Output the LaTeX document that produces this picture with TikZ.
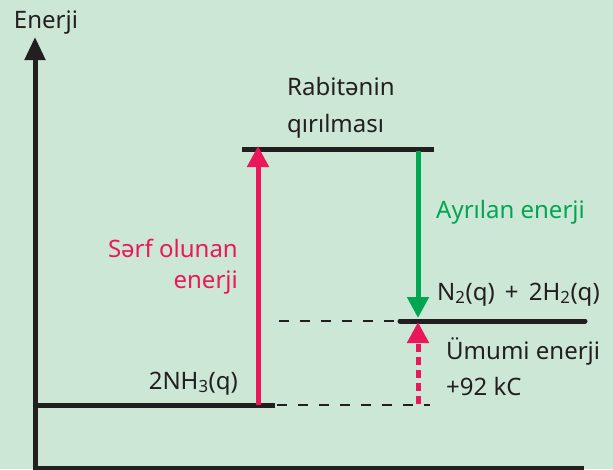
\documentclass[tikz,border=0pt]{standalone}
\usepackage{fontspec}
\setmainfont{Noto Sans}
\usetikzlibrary{arrows.meta}
\definecolor{bgmint}{RGB}{205,231,214}
\definecolor{sarfpink}{RGB}{234,24,90}
\definecolor{ayrgreen}{RGB}{0,166,81}
\definecolor{inkblack}{RGB}{35,31,32}

\begin{document}
\begin{tikzpicture}[x=1pt, y=-1pt,
  level/.style={line width=5pt, inkblack},
  guide/.style={line width=2.2pt, inkblack, dash pattern=on 10pt off 11pt},
  lbl/.style={font=\fontsize{24}{38}\selectfont, text=inkblack, inner sep=0pt},
  uparrow/.style={line width=5pt, sarfpink, -{Triangle[length=21pt, width=21pt]}},
  downarrow/.style={line width=5pt, ayrgreen, -{Triangle[length=21pt, width=21pt]}}]
  \fill[bgmint] (0,0) rectangle (613,469);
  \useasboundingbox (0,0) rectangle (613,469);
  %% axes
  \coordinate (origin) at (35,468);
  \coordinate (ytop) at (35,37);
  \coordinate (xend) at (584,468);
  \draw[line width=5pt, inkblack, -{Triangle[length=23pt, width=20pt]}] (35,469) -- (ytop);
  \draw[line width=5pt, inkblack] (32.5,468) -- (xend);
  \node[lbl, anchor=base] (yname) at (46,28) {Enerji};
  %% energy levels
  \coordinate (lowL) at (35,405);
  \coordinate (lowR) at (275,405);
  \coordinate (lowD) at (430,405);
  \coordinate (topL) at (242,149);
  \coordinate (topR) at (434,149);
  \coordinate (midD) at (279,321);
  \coordinate (midL) at (400,321);
  \coordinate (midR) at (585,321);
  \draw[level] (lowL) -- (lowR);
  \draw[level] (topL) -- (topR);
  \draw[level, line cap=round] (midL) -- (midR);
  \draw[guide] (lowR) ++(2,0) -- (lowD);
  \draw[guide] (midD) -- (midL);
  %% arrows
  \coordinate (upfoot) at (258,405);
  \coordinate (uptip) at (258,146);
  \coordinate (downfoot) at (418,151);
  \coordinate (downtip) at (418,318);
  \coordinate (netfoot) at (418,404);
  \coordinate (nettip) at (418,322);
  \draw[uparrow] (upfoot) -- (uptip);
  \draw[downarrow] (downfoot) -- (downtip);
  \draw[uparrow, dash pattern=on 8pt off 5pt] (netfoot) -- (nettip);
  %% labels
  \node[lbl, anchor=base west] (bond1) at (287,95) {Rabitənin};
  \node[lbl, anchor=base west] (bond2) at (287,132) {qırılması};
  \node[lbl, anchor=base west] (prod) at (437,300) {N\textsubscript{2}(q) \,+\, 2H\textsubscript{2}(q)};
  \node[lbl, anchor=base west] (net1) at (446,359) {Ümumi enerji};
  \node[lbl, anchor=base west] (net2) at (446,395) {+92 kC};
  \node[lbl, anchor=base east] (react) at (238,389) {2NH\textsubscript{3}(q)};
  \node[lbl, anchor=base west, text=ayrgreen] (released) at (436,218) {Ayrılan enerji};
  \node[lbl, anchor=base east, text=sarfpink] (spent1) at (238,257) {Sərf olunan};
  \node[lbl, anchor=base east, text=sarfpink] (spent2) at (238,288) {enerji};
\end{tikzpicture}
\end{document}
